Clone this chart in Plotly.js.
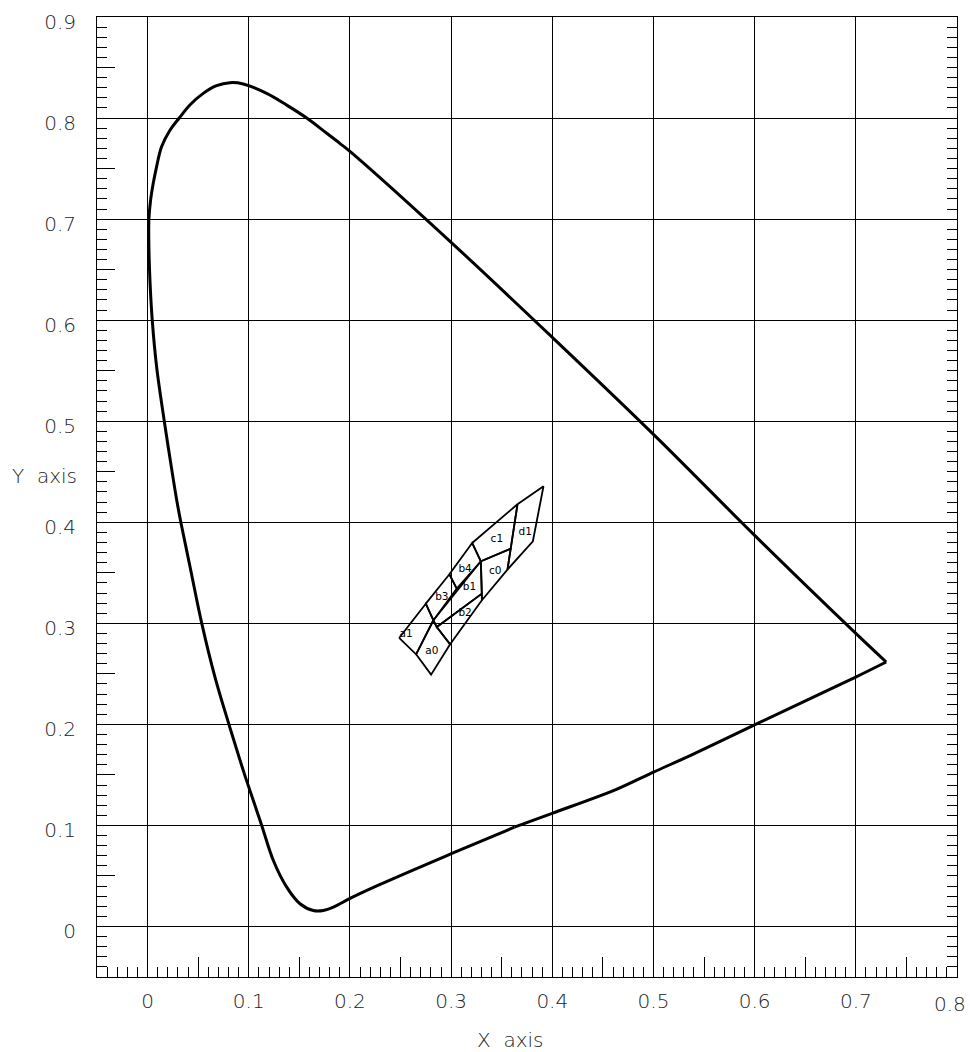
<!DOCTYPE html>
<html><head><meta charset="utf-8">
<script src="https://cdn.plot.ly/plotly-3.0.1.min.js"></script>
<style>html,body{margin:0;padding:0;background:#fff}#chart{width:970px;height:1052px}</style>
</head><body><div id="chart"></div>
<script>
// Spectral locus: from the red corner, up the diagonal, over the top, down the left side, round the bottom
const locusX = [0.7300,0.7000,0.6000,0.5000,0.4000,0.3000,0.2000,0.1900,0.1770,0.1573,0.1375,0.1177,0.0946,0.0814,0.0682,0.0550,0.0418,0.0313,0.0221,0.0138,0.0085,0.0055,0.0030,0.0013,0.0013,0.0023,0.0046,0.0089,0.0165,0.0225,0.0288,0.0330,0.0420,0.0536,0.0666,0.0804,0.0914,0.0967,0.1128,0.1243,0.1375,0.1506,0.1638,0.1737,0.1836,0.2006,0.2298,0.3002,0.3626];
const locusY = [0.2617,0.2900,0.3870,0.4870,0.5830,0.6770,0.7670,0.7750,0.7850,0.8000,0.8128,0.8244,0.8337,0.8350,0.8320,0.8244,0.8129,0.8000,0.7880,0.7716,0.7500,0.7350,0.7190,0.7000,0.6726,0.6400,0.6000,0.5540,0.5000,0.4610,0.4218,0.3993,0.3557,0.2997,0.2468,0.2000,0.1644,0.1478,0.1000,0.0653,0.0389,0.0225,0.0158,0.0158,0.0191,0.0280,0.0416,0.0720,0.0983];
// Lower (purple) boundary back to the red corner
const purpleX = [0.3626,0.4005,0.4610,0.5000,0.5368,0.6004,0.6999,0.7300];
const purpleY = [0.0983,0.1122,0.1347,0.1528,0.1693,0.1997,0.2468,0.2617];

// Bins (quadrilaterals)
const binNames = ['a1','a0','b3','b4','b1','b2','c1','c0','d1'];
const binX = [
  [0.2486,0.2750,0.2825,0.2654],
  [0.2654,0.2825,0.2858,0.2990,0.2802],
  [0.2750,0.2983,0.3056,0.2825],
  [0.2983,0.3208,0.3294,0.3056],
  [0.2825,0.3294,0.3304,0.2858],
  [0.2858,0.3304,0.3304,0.2990],
  [0.3208,0.3656,0.3589,0.3294],
  [0.3294,0.3589,0.3557,0.3304],
  [0.3656,0.3913,0.3808,0.3557]
];
const binY = [
  [0.2855,0.3195,0.3030,0.2693],
  [0.2693,0.3030,0.2963,0.2792,0.2492],
  [0.3195,0.3485,0.3343,0.3030],
  [0.3485,0.3795,0.3614,0.3343],
  [0.3030,0.3614,0.3294,0.2963],
  [0.2963,0.3294,0.3228,0.2792],
  [0.3795,0.4178,0.3739,0.3614],
  [0.3614,0.3739,0.3532,0.3228],
  [0.4178,0.4356,0.3812,0.3532]
];
const labelX = [0.2555,0.2809,0.2908,0.3138,0.3181,0.3138,0.3452,0.3435,0.3732];
const labelY = [0.2891,0.2726,0.3260,0.3532,0.3353,0.3102,0.3829,0.3518,0.3898];

const xTickVals = [0,0.1,0.2,0.3,0.4,0.5,0.6,0.7];
const xTickText = ['0','0.1','0.2','0.3','0.4','0.5','0.6','0.7'];
const xMidTicks = [-0.05,0.05,0.15,0.25,0.35,0.45,0.55,0.65,0.75];
const yTickVals = [0,0.1,0.2,0.3,0.4,0.5,0.6,0.7,0.8,0.9];
const yTickText = ['0','0.1','0.2','0.3','0.4','0.5','0.6','0.7','0.8','0.9'];
const yMidTicks = [0.05,0.15,0.25,0.35,0.45,0.55,0.65,0.75,0.85];

const FONT = 'DejaVu Sans, Liberation Sans, sans-serif';
const TXT = {family: FONT, size: 20, color: '#222', weight: 200};

const traces = [];
traces.push({x: locusX, y: locusY, mode: 'lines', line: {color: '#000', width: 3, shape: 'spline', smoothing: 1}, hoverinfo: 'skip', showlegend: false});
traces.push({x: purpleX, y: purpleY, mode: 'lines', line: {color: '#000', width: 3, shape: 'spline', smoothing: 0.8}, hoverinfo: 'skip', showlegend: false});
binNames.forEach((n, i) => {
  const xs = binX[i].concat([binX[i][0]]);
  const ys = binY[i].concat([binY[i][0]]);
  traces.push({x: xs, y: ys, mode: 'lines', line: {color: '#000', width: 1.8}, name: n, hoverinfo: 'skip', showlegend: false});
});
traces.push({x: labelX, y: labelY, mode: 'text', text: binNames, textfont: {family: FONT, size: 10.5, color: '#000'}, hoverinfo: 'skip', showlegend: false});
traces.push({x: [], y: [], xaxis: 'x2', yaxis: 'y2', showlegend: false});

const layout = {
  width: 970, height: 1052,
  margin: {l: 97, r: 13, t: 17, b: 75},
  paper_bgcolor: '#fff', plot_bgcolor: '#fff',
  showlegend: false,
  xaxis: {
    range: [-0.05, 0.8], tickmode: 'array', tickvals: xTickVals, ticktext: xTickText,
    ticks: 'inside', ticklen: 20, tickcolor: '#000', tickwidth: 1,
    showgrid: true, gridcolor: '#000', gridwidth: 1, zeroline: false,
    showline: true, linecolor: '#000', linewidth: 1, mirror: true,
    tickfont: TXT, ticklabelstandoff: 6,
    minor: {dtick: 0.01, tick0: 0, ticks: 'inside', ticklen: 10, tickcolor: '#000', tickwidth: 1, showgrid: false},
    fixedrange: true
  },
  xaxis2: {
    overlaying: 'x', anchor: 'y', side: 'bottom', range: [-0.05, 0.8],
    tickmode: 'array', tickvals: xMidTicks, ticks: 'inside', ticklen: 20, tickcolor: '#000', tickwidth: 1,
    showticklabels: false, showgrid: false, zeroline: false, showline: false
  },
  yaxis: {
    range: [-0.05, 0.9], tickmode: 'array', tickvals: yTickVals, ticktext: yTickText,
    ticks: 'inside', ticklen: 18, tickcolor: '#000', tickwidth: 1,
    showgrid: true, gridcolor: '#000', gridwidth: 1, zeroline: false,
    showline: true, linecolor: '#000', linewidth: 1, mirror: 'ticks',
    tickfont: TXT, ticklabelstandoff: 16, ticklabelshift: 5,
    minor: {dtick: 0.01, tick0: 0, ticks: 'inside', ticklen: 10, tickcolor: '#000', tickwidth: 1, showgrid: false},
    fixedrange: true
  },
  yaxis2: {
    overlaying: 'y', anchor: 'x', side: 'left', range: [-0.05, 0.9],
    tickmode: 'array', tickvals: yMidTicks, ticks: 'inside', ticklen: 18, tickcolor: '#000', tickwidth: 1,
    showticklabels: false, showgrid: false, zeroline: false, showline: false
  },
  annotations: [
    {text: 'Y\u00a0\u00a0axis', xref: 'paper', yref: 'paper', x: -0.0616, y: 0.5219, xanchor: 'center', yanchor: 'middle', showarrow: false, font: TXT},
    {text: 'X\u00a0\u00a0axis', xref: 'x', yref: 'paper', x: 0.358, y: -0.0656, xanchor: 'center', yanchor: 'middle', showarrow: false, font: TXT},
    {text: '0.8', xref: 'paper', yref: 'paper', x: 0.9919, y: -0.028, xanchor: 'center', yanchor: 'middle', showarrow: false, font: TXT}
  ]
};

Plotly.newPlot('chart', traces, layout, {displayModeBar: false, staticPlot: true});
</script>
</body></html>
